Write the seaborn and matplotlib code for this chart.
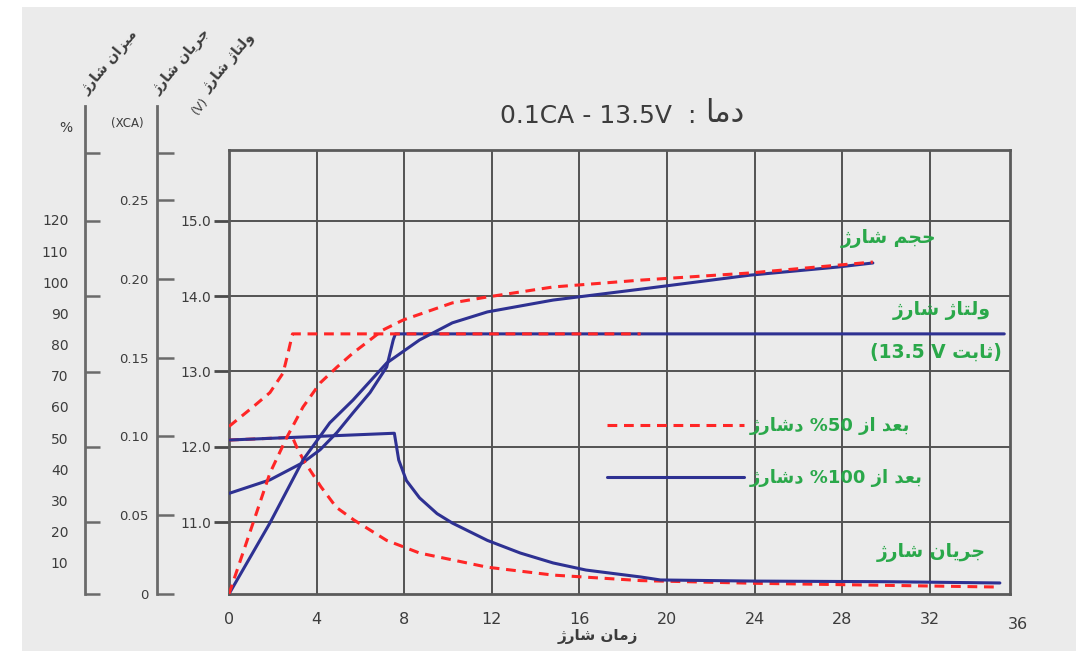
import numpy as np
import pandas as pd
import matplotlib
matplotlib.use("Agg")
import matplotlib.pyplot as plt
from matplotlib.patches import Rectangle
from matplotlib.lines import Line2D
import seaborn as sns

# ---------------- data ----------------
# charge time (h)
x_ticks = [0, 4, 8, 12, 16, 20, 24, 28, 32, 36]

# charge voltage (V) after 100% discharge (blue) / 50% discharge (red)
v100_t = [0, 1.87, 3.38, 4.16, 4.93, 5.66, 6.44, 7.2, 7.5, 7.6, 35.4]
v100_v = [11.38, 11.56, 11.79, 11.96, 12.19, 12.45, 12.72, 13.06, 13.42, 13.5, 13.5]
v50_t = [0, 1.1, 1.87, 2.47, 2.7, 2.9, 18.8]
v50_v = [12.27, 12.53, 12.72, 12.98, 13.25, 13.5, 13.5]

# charge current (xCA)
i100_t = [0, 7.55, 7.75, 8.1, 8.7, 9.5, 10.2, 11.8, 13.3, 14.8, 16.3, 18.8, 19.7, 24, 30, 35.2]
i100_v = [0.0977, 0.102, 0.085, 0.072, 0.061, 0.051, 0.045, 0.034, 0.026, 0.0197,
          0.0152, 0.0108, 0.0089, 0.0082, 0.0078, 0.0070]
i50_t = [0, 2.9, 3.1, 3.4, 4.2, 4.9, 5.7, 7.2, 8.7, 11.8, 14.8, 18.8, 24, 30, 35.2]
i50_v = [0.0977, 0.0994, 0.093, 0.085, 0.068, 0.055, 0.047, 0.034, 0.026, 0.017, 0.012,
         0.0085, 0.0068, 0.0055, 0.0044]

# charge volume (%)
q100_t = [0, 1.87, 3.38, 4.6, 5.66, 7.2, 8.7, 10.2, 11.8, 14.8, 18.8, 23.8, 27.8, 29.4]
q100_v = [0, 22.8, 43, 54.9, 62.2, 74.1, 81.5, 87, 90.5, 94.3, 97.8, 102.3, 104.9, 106.2]
q50_t = [0, 1.1, 1.87, 2.65, 3.38, 4.16, 4.93, 5.66, 7.03, 7.95, 10.2, 11.8, 14.8, 18.8, 23.8, 27.8, 29.4]
q50_v = [0, 22.8, 38.8, 50.4, 60, 67.7, 72.8, 77.3, 84.7, 87.9, 93.4, 95.3, 98.5, 100.7, 103, 105.5, 106.5]

volt_ticks = [11.0, 12.0, 13.0, 14.0, 15.0]
cur_ticks = [0, 0.05, 0.10, 0.15, 0.20, 0.25]
cur_labels = ["0", "0.05", "0.10", "0.15", "0.20", "0.25"]
pct_ticks = [10, 20, 30, 40, 50, 60, 70, 80, 90, 100, 110, 120]

# ---------------- minimal Persian shaping for matplotlib ----------------
FORMS = {
    'ا': ('\uFE8D', '\uFE8E', None, None),
    'ب': ('\uFE8F', '\uFE90', '\uFE91', '\uFE92'),
    'ت': ('\uFE95', '\uFE96', '\uFE97', '\uFE98'),
    'ث': ('\uFE99', '\uFE9A', '\uFE9B', '\uFE9C'),
    'ج': ('\uFE9D', '\uFE9E', '\uFE9F', '\uFEA0'),
    'ح': ('\uFEA1', '\uFEA2', '\uFEA3', '\uFEA4'),
    'د': ('\uFEA9', '\uFEAA', None, None),
    'ر': ('\uFEAD', '\uFEAE', None, None),
    'ز': ('\uFEAF', '\uFEB0', None, None),
    'ژ': ('\uFB8A', '\uFB8B', None, None),
    'ش': ('\uFEB5', '\uFEB6', '\uFEB7', '\uFEB8'),
    'ع': ('\uFEC9', '\uFECA', '\uFECB', '\uFECC'),
    'ل': ('\uFEDD', '\uFEDE', '\uFEDF', '\uFEE0'),
    'م': ('\uFEE1', '\uFEE2', '\uFEE3', '\uFEE4'),
    'ن': ('\uFEE5', '\uFEE6', '\uFEE7', '\uFEE8'),
    'و': ('\uFEED', '\uFEEE', None, None),
    'ی': ('\uFBFC', '\uFBFD', '\uFEF3', '\uFEF4'),
}


def shape(s):
    out = []
    for i, c in enumerate(s):
        if c not in FORMS:
            out.append(c)
            continue
        prev = s[i - 1] if i > 0 else None
        nxt = s[i + 1] if i + 1 < len(s) else None
        jp = prev in FORMS and FORMS[prev][2] is not None
        jn = nxt in FORMS and FORMS[c][2] is not None
        iso, fin, ini, med = FORMS[c]
        if jp and jn:
            out.append(med)
        elif jp:
            out.append(fin)
        elif jn:
            out.append(ini)
        else:
            out.append(iso)
    return ''.join(out)


def fa(s):
    return shape(s)[::-1]


# ---------------- styling ----------------
sns.set_style("white")
plt.rcParams['font.family'] = ['DejaVu Sans']

BLUE = '#2e3192'
RED = '#ff2626'
GREEN = '#2aa84a'
DARK = '#3c3c3c'
GRID = '#525252'
BG = '#ebebeb'
DASH = (0, (3.2, 2.2))

W, H = 1084, 651


def fx(px):
    return px / W


def fy(py):
    return 1 - py / H


fig = plt.figure(figsize=(10.84, 6.51), dpi=100)
fig.patch.set_facecolor('white')
fig.add_artist(Rectangle((fx(22), 0), fx(1076) - fx(22), fy(7), transform=fig.transFigure,
                         facecolor=BG, edgecolor='none', zorder=-10))

# pixel geometry
L, R, T, B = 229, 1010, 150, 594
ax = fig.add_axes([fx(L), fy(B), fx(R) - fx(L), fy(T) - fy(B)])
ax.set_facecolor(BG)

# scales
px_per_v = 75.25
v_lo = 11.0 - (B - 522) / px_per_v
v_hi = 15.0 + (221 - T) / px_per_v
px_per_i = 1576.0
px_per_q = 3.117
xmax = (R - L) / 21.9

ax_i = ax.twinx()
ax_q = ax.twinx()
for a in (ax_i, ax_q):
    a.set_axis_off()

# ---------------- curves ----------------
lw = 2.2
sns.lineplot(x=i50_t, y=i50_v, ax=ax_i, color=RED, lw=lw, sort=False, estimator=None,
             linestyle=DASH, zorder=2)
sns.lineplot(x=v100_t, y=v100_v, ax=ax, color=BLUE, lw=lw, sort=False, estimator=None, zorder=3)
sns.lineplot(x=i100_t, y=i100_v, ax=ax_i, color=BLUE, lw=lw, sort=False, estimator=None, zorder=3)
sns.lineplot(x=q100_t, y=q100_v, ax=ax_q, color=BLUE, lw=lw, sort=False, estimator=None, zorder=3)
sns.lineplot(x=v50_t, y=v50_v, ax=ax, color=RED, lw=lw, sort=False, estimator=None,
             linestyle=DASH, zorder=4)
sns.lineplot(x=q50_t, y=q50_v, ax=ax_q, color=RED, lw=lw, sort=False, estimator=None,
             linestyle=DASH, zorder=4)
for a in (ax, ax_i, ax_q):
    a.set_xlabel("")
    a.set_ylabel("")
    a.set_xlim(0, xmax)
ax.set_ylim(v_lo, v_hi)
ax_i.set_ylim(0, (B - T) / px_per_i)
ax_q.set_ylim(0, (B - T) / px_per_q)
ax_i.set_zorder(ax.get_zorder() + 0.5)
ax_q.set_zorder(ax.get_zorder() + 1)

# grid, frame and ticks of the main (voltage) axes
ax.set_xticks(x_ticks[:-1])
ax.set_xticklabels([str(t) for t in x_ticks[:-1]])
ax.set_yticks(volt_ticks)
ax.set_yticklabels([f"{t:.1f}" for t in volt_ticks])
ax.grid(True, color=GRID, lw=1.4)
for s in ax.spines.values():
    s.set_color('#5a5a5a')
    s.set_linewidth(2.0)
ax.tick_params(axis='x', bottom=False, length=0, pad=13, labelsize=11.5, colors=DARK)
ax.yaxis.set_ticks_position('left')
ax.tick_params(axis='y', which='major', left=True, direction='out', length=11, width=2.0,
               color='#4a4a4a', pad=2, labelsize=10, labelcolor=DARK)
ax.text(36, -0.052, "36", transform=ax.get_xaxis_transform(), ha='center', va='top',
        fontsize=11.5, color=DARK)

# ---------------- legend ----------------
handles = [Line2D([], [], color=RED, lw=lw, linestyle=DASH),
           Line2D([], [], color=BLUE, lw=lw)]
labels = [fa("دشارژ") + " %50 " + fa("بعد از"),
          fa("دشارژ") + " %100 " + fa("بعد از")]
leg = ax_q.legend(handles, labels, loc='upper left', bbox_to_anchor=(fx(607), fy(417)),
                  bbox_transform=fig.transFigure, frameon=False, handlelength=7.6,
                  handletextpad=0.3, labelspacing=1.9, borderpad=0, borderaxespad=0,
                  prop={'weight': 'bold', 'size': 13})
for t in leg.get_texts():
    t.set_color(GREEN)

# ---------------- in-plot labels ----------------
lab_kw = dict(color=GREEN, fontweight='bold', fontsize=13.5, transform=fig.transFigure)
fig.text(fx(936), fy(238), fa("حجم شارژ"), ha='right', va='center', **lab_kw)
fig.text(fx(991), fy(311), fa("ولتاژ شارژ"), ha='right', va='center', **lab_kw)
fig.text(fx(1002), fy(352), "(13.5 V " + fa("ثابت") + ")", ha='right', va='center', **lab_kw)
fig.text(fx(986), fy(553), fa("جریان شارژ"), ha='right', va='center', **lab_kw)

# title
fig.text(fx(696), fy(116), "0.1CA - 13.5V  :", ha='right', va='center',
         fontsize=18, color=DARK)
fig.text(fx(705), fy(114), fa("دما"), ha='left', va='center', fontsize=22, color=DARK)
# x label
fig.text(fx(598), fy(637), fa("زمان شارژ"), ha='center', va='center', fontsize=11,
         color=DARK, fontweight='bold')

# ---------------- extra left axes ----------------
TOP2 = 106


def side_axis(px, ymax):
    a = fig.add_axes([fx(px), fy(B), 0.0001, fy(TOP2) - fy(B)])
    a.set_facecolor('none')
    for k in ('top', 'right', 'bottom'):
        a.spines[k].set_visible(False)
    a.spines['left'].set_color('#6a6a6a')
    a.spines['left'].set_linewidth(2.0)
    a.set_xticks([])
    a.set_ylim(0, ymax)
    return a


# percent axis
ax_p = side_axis(85, (B - TOP2) / px_per_q)
ax_p.set_yticks(pct_ticks)
ax_p.set_yticklabels([str(t) for t in pct_ticks])
grid_marks = [v_lo] + volt_ticks + [v_lo + (B - 153) / px_per_v]
ax_p.set_yticks([(v - v_lo) * px_per_v / px_per_q for v in grid_marks], minor=True)
ax_p.tick_params(axis='y', which='major', left=False, length=0, pad=12, labelsize=10,
                 labelcolor=DARK)
ax_p.tick_params(axis='y', which='minor', left=True, direction='in', length=11, width=1.8,
                 color='#6a6a6a')

# current axis
ax_c = side_axis(157, (B - TOP2) / px_per_i)
ax_c.set_yticks(cur_ticks)
ax_c.set_yticklabels(cur_labels)
ax_c.set_yticks([(B - 153) / px_per_i], minor=True)
ax_c.tick_params(axis='y', which='major', left=True, direction='in', length=12, width=1.8,
                 color='#6a6a6a', pad=6, labelsize=9.5, labelcolor=DARK)
ax_c.tick_params(axis='y', which='minor', left=True, direction='in', length=12, width=1.8,
                 color='#6a6a6a')

# unit labels
fig.text(fx(66), fy(128), "%", ha='center', va='center', fontsize=10, color=DARK)
fig.text(fx(127), fy(123), "(XCA)", ha='center', va='center', fontsize=8.5, color=DARK)
fig.text(fx(200), fy(106), "(V)", ha='center', va='center', fontsize=9, color=DARK, rotation=50)

# rotated axis titles
rot_kw = dict(ha='center', va='center', fontsize=10, color=DARK, rotation=50,
              rotation_mode='anchor', fontweight='bold')
fig.text(fx(109), fy(62), fa("میزان شارژ"), **rot_kw)
fig.text(fx(181), fy(61), fa("جریان شارژ"), **rot_kw)
fig.text(fx(228), fy(62), fa("ولتاژ شارژ"), **rot_kw)

fig.savefig("out.png", dpi=100, facecolor=fig.get_facecolor())
